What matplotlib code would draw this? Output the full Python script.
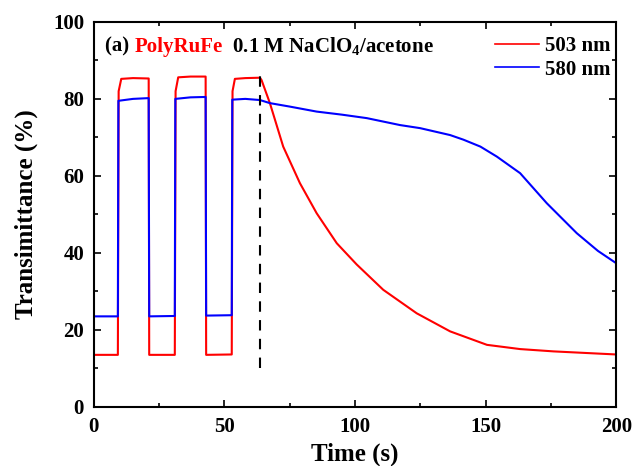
import matplotlib
matplotlib.use('Agg')
import matplotlib.pyplot as plt
from matplotlib.ticker import MultipleLocator

plt.rcParams['font.family'] = 'Liberation Serif'
plt.rcParams['font.weight'] = 'bold'
plt.rcParams['mathtext.fontset'] = 'custom'
plt.rcParams['mathtext.rm'] = 'Liberation Serif:bold'
plt.rcParams['mathtext.it'] = 'Liberation Serif:bold'
plt.rcParams['mathtext.bf'] = 'Liberation Serif:bold'

# Data
t_503 = [0, 9.2, 9.5, 10.5, 15, 21.0, 21.2, 31.0, 31.3, 32.3, 37, 42.8, 43.0, 52.8, 53.1, 54.0, 58, 63.6,
         64.2, 67.4, 72.5, 78.9, 85.3, 93.0, 100.6, 110.8, 123.6, 136.4, 150.5, 163.2, 176.0, 188, 200]
T_503 = [13.5, 13.5, 82, 85.2, 85.4, 85.3, 13.5, 13.5, 82, 85.6, 85.8, 85.8, 13.5, 13.6, 82, 85.2, 85.4, 85.5,
         84.9, 78.9, 67.6, 58.1, 50.3, 42.5, 37.0, 30.4, 24.3, 19.6, 16.1, 15.0, 14.4, 14.0, 13.6]

t_580 = [0, 9.2, 9.4, 15, 21.0, 21.2, 31.0, 31.2, 37, 42.8, 43.0, 52.8, 53.0, 58, 63.6,
         67.4, 75, 85.3, 95, 104.5, 117.2, 124.9, 136.4, 141.5, 148, 154.3, 163.2, 173.4, 184.9, 193, 200]
T_580 = [23.5, 23.5, 79.5, 80.0, 80.2, 23.5, 23.6, 80, 80.4, 80.5, 23.7, 23.8, 79.8, 80.0, 79.7,
         78.9, 78.0, 76.7, 75.9, 75.0, 73.2, 72.4, 70.6, 69.4, 67.6, 65.0, 60.7, 52.9, 45.1, 40.5, 37.3]

t_switch = 63.6

fig = plt.figure(figsize=(6.34, 4.66), dpi=100)
ax = fig.add_axes([0.148, 0.127, 0.824, 0.826])

ax.plot(t_503, T_503, color='#ff0000', lw=1.5, label='503 nm')
ax.plot(t_580, T_580, color='#0000ff', lw=1.5, label='580 nm')
ax.vlines(t_switch, 10, 88, colors='black', linestyles=(0, (5, 4)), lw=1.5)

ax.set_xlim(0, 200)
ax.set_ylim(0, 100)
ax.xaxis.set_major_locator(MultipleLocator(50))
ax.xaxis.set_minor_locator(MultipleLocator(25))
ax.yaxis.set_major_locator(MultipleLocator(20))
ax.yaxis.set_minor_locator(MultipleLocator(10))
ax.tick_params(which='both', direction='in', top=True, right=True, labelsize=15, width=1.2)
ax.tick_params(which='major', length=5)
ax.tick_params(which='minor', length=3)
ax.tick_params(axis='x', pad=7)
ax.tick_params(axis='y', pad=7)
for s in ax.spines.values():
    s.set_linewidth(1.5)

ax.set_xlabel('Time (s)', fontsize=18, fontweight='bold', labelpad=4)
ax.set_ylabel('Transimittance (%)', fontsize=18, fontweight='bold', labelpad=11)

t1 = ax.text(4.2, 92.2, '(a) ', fontsize=15, fontweight='bold', color='black')
t2 = ax.annotate('PolyRuFe', xy=(1, 0), xycoords=t1, fontsize=15, fontweight='bold', color='#ff0000', va='bottom')
ax.annotate('  0.1 M NaClO$_4$/acetone', xy=(1, 0), xycoords=t2, fontsize=15, fontweight='bold', color='black', va='bottom')

leg = ax.legend(loc='upper right', frameon=False, fontsize=15, handlelength=2.1, handletextpad=0.3,
                labelspacing=0.15, borderaxespad=0.3, bbox_to_anchor=(1.017, 1.0))
for line in leg.get_lines():
    line.set_linewidth(1.2)

fig.savefig('out.png', dpi=100)
